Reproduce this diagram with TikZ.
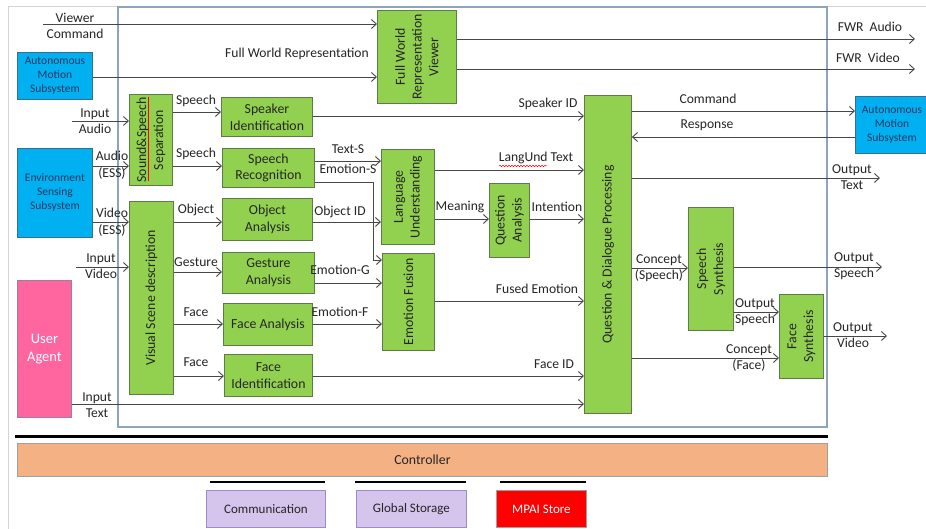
\documentclass[tikz,border=0pt]{standalone}
\usepackage{fontspec}
\setmainfont{Carlito}
\usetikzlibrary{arrows.meta,decorations.pathmorphing}
\definecolor{gfill}{HTML}{92D050}
\definecolor{gline}{HTML}{5F7A4A}
\definecolor{bfill}{HTML}{00B0F0}
\definecolor{bline}{HTML}{3A6E8F}
\definecolor{btext}{HTML}{1F3864}
\definecolor{pfill}{HTML}{FF66A0}
\definecolor{pline}{HTML}{9A7FA0}
\definecolor{cfill}{HTML}{F4B183}
\definecolor{cline}{HTML}{A0A0A0}
\definecolor{lfill}{HTML}{D5C4EC}
\definecolor{lline}{HTML}{9A8CCB}
\definecolor{aline}{HTML}{474747}
\definecolor{ltext}{HTML}{262626}
\definecolor{frame}{HTML}{8FA3BF}
\definecolor{outer}{HTML}{D4D4D4}
\newcommand{\fsz}[2]{\fontsize{#1}{#2}\selectfont}
\newcommand{\bx}[6]{\node[#6, anchor=north west, minimum width={(#4-#2)*1pt}, minimum height={(#5-#3)*1pt}] (#1) at (#2,#3) {};}
\tikzset{
  gbox/.style={draw=gline, fill=gfill, line width=0.9pt, inner sep=0pt},
  bbox/.style={draw=bline, fill=bfill, line width=0.9pt, inner sep=0pt},
  pbox/.style={draw=pline, fill=pfill, line width=0.9pt, inner sep=0pt},
  cbox/.style={draw=cline, fill=cfill, line width=0.9pt, inner sep=0pt},
  lbox/.style={draw=lline, fill=lfill, line width=0.9pt, inner sep=0pt},
  rbox/.style={draw=cline, fill=red, line width=0.9pt, inner sep=0pt},
  btxt/.style={align=center, font={\fsz{13.8}{16.8}}, text=ltext, inner sep=0pt},
  stxt/.style={align=center, font={\fsz{11.5}{14}}, text=btext, inner sep=0pt},
  lbl/.style={align=center, font={\fsz{13.6}{16.5}}, text=ltext, inner sep=0pt},
  arr/.style={draw=aline, line width=0.9pt, -{Straight Barb[length=5pt,width=9pt]}},
}
\begin{document}
\begin{tikzpicture}[x=1pt,y=-1pt]
\useasboundingbox (0,0) rectangle (926,529);
\fill[white] (0,0) rectangle (926,529);
% frames
\draw[outer, line width=1pt] (8,529) -- (8,7) -- (926,7);
\draw[frame, line width=1.2pt] (118,7) rectangle (827,427);
\draw[line width=3pt] (15,436) -- (828,436);
\draw[line width=2.2pt] (210,482) -- (325,482);
\draw[line width=2.2pt] (355,482) -- (466,482);
\draw[line width=2.2pt] (500,482) -- (586,482);

% boxes
\bx{fwrv}{377}{10}{456}{103}{gbox}
\bx{amsL}{17}{52}{92}{99}{bbox}
\bx{ess}{17}{148}{92}{237}{bbox}
\bx{ua}{17}{280}{71}{417}{pbox}
\bx{sss}{129}{94}{172}{185}{gbox}
\bx{vsd}{129}{201}{173}{394}{gbox}
\bx{si}{221}{97}{312}{136}{gbox}
\bx{sr}{222}{148}{314}{187}{gbox}
\bx{oa}{222}{198}{312}{240}{gbox}
\bx{ga}{222}{252}{314}{293}{gbox}
\bx{fa}{223}{303}{312}{345}{gbox}
\bx{fi}{224}{354}{312}{396}{gbox}
\bx{lu}{381}{149}{434}{244}{gbox}
\bx{ef}{382}{253}{434}{350}{gbox}
\bx{qa}{489}{183}{529}{257}{gbox}
\bx{qdp}{584}{95}{631}{413}{gbox}
\bx{sps}{688}{207}{733}{330}{gbox}
\bx{fs}{779}{294}{823}{378}{gbox}
\bx{amsR}{855}{96}{927}{153}{bbox}
\bx{ctrl}{17}{443}{827}{476}{cbox}
\bx{comm}{206}{490}{325}{527}{lbox}
\bx{gs}{356}{490}{466}{527}{lbox}
\bx{mpai}{496}{490}{586}{527}{rbox}

% box texts
\node[btxt, rotate=90] (t-fwrv) at (fwrv.center) {Full World\\Representation\\Viewer};
\node[stxt] (t-amsL) at (amsL.center) {Autonomous\\Motion\\Subsystem};
\node[stxt] (t-ess) at (ess.center) {Environment\\Sensing\\Subsystem};
\node[btxt, text=white, font={\fsz{14.5}{18}}] (t-ua) at (ua.center) {User\\Agent};
\node[btxt, rotate=90] (t-sss) at (sss.center) {Sound\&Speech\\Separation};
\node[btxt, rotate=90] (t-vsd) at (vsd.center) {Visual Scene description};
\node[btxt] (t-si) at (si.center) {Speaker\\Identification};
\node[btxt] (t-sr) at (sr.center) {Speech\\Recognition};
\node[btxt] (t-oa) at (oa.center) {Object\\Analysis};
\node[btxt] (t-ga) at (ga.center) {Gesture\\Analysis};
\node[btxt] (t-fa) at (fa.center) {Face Analysis};
\node[btxt] (t-fi) at (fi.center) {Face\\Identification};
\node[btxt, rotate=90] (t-lu) at (lu.center) {Language\\Understanding};
\node[btxt, rotate=90] (t-ef) at (ef.center) {Emotion Fusion};
\node[btxt, rotate=90] (t-qa) at (qa.center) {Question\\Analysis};
\node[btxt, rotate=90] (t-qdp) at (qdp.center) {Question \& Dialogue Processing};
\node[btxt, rotate=90] (t-sps) at (sps.center) {Speech\\Synthesis};
\node[btxt, rotate=90] (t-fs) at (fs.center) {Face\\Synthesis};
\node[stxt] (t-amsR) at (892,124.5) {Autonomous\\Motion\\Subsystem};
\node[btxt] (t-ctrl) at (ctrl.center) {Controller};
\node[btxt, font={\fsz{13}{15}}] (t-comm) at (comm.center) {Communication};
\node[btxt, font={\fsz{13}{15}}] (t-gs) at (gs.center) {Global Storage};
\node[btxt, text=white, font={\fsz{13}{15}}] (t-mpai) at (mpai.center) {MPAI Store};

% spell-check marks
\draw[red, line width=0.6pt] (148,97) -- (148,181);
\draw[red, line width=0.5pt, decorate, decoration={snake, amplitude=0.7pt, segment length=3pt}] (499,166) -- (547,166);

% free ends
\coordinate (vc) at (43,24);
\coordinate (iaud) at (72,121);
\coordinate (ivid) at (76,267);
\coordinate (fwra) at (915,39);
\coordinate (fwrvid) at (915,69);
\coordinate (otext) at (880,178);
\coordinate (ospeech) at (882,267);
\coordinate (ovideo) at (887,336);
\coordinate (es) at (373,182);

% connectors
\draw[arr] (vc) -- (fwrv.west |- vc);
\draw[arr] (amsL.east |- 0,77) -- (fwrv.west |- 0,77);
\draw[arr] (fwrv.east |- fwra) -- (fwra);
\draw[arr] (fwrv.east |- fwrvid) -- (fwrvid);
\draw[arr] (iaud) -- (sss.west |- iaud);
\draw[arr] (ess.east |- 0,166) -- (sss.west |- 0,166);
\draw[arr] (ess.east |- 0,222) -- (vsd.west |- 0,222);
\draw[arr] (ivid) -- (vsd.west |- ivid);
\draw[arr] (sss.east |- 0,112) -- (si.west |- 0,112);
\draw[arr] (sss.east |- 0,166) -- (sr.west |- 0,166);
\draw[arr] (vsd.east |- 0,222) -- (oa.west |- 0,222);
\draw[arr] (vsd.east |- 0,272) -- (ga.west |- 0,272);
\draw[arr] (vsd.east |- 0,324) -- (fa.west |- 0,324);
\draw[arr] (vsd.east |- 0,376) -- (fi.west |- 0,376);
\draw[arr] (si.east |- 0,116) -- (qdp.west |- 0,116);
\draw[arr] (sr.east |- 0,161) -- (lu.west |- 0,161);
\draw[arr] (sr.east |- es) -- (es) |- (ef.west |- 0,260);
\draw[arr] (oa.east |- 0,222) -- (lu.west |- 0,222);
\draw[arr] (ga.east |- 0,283) -- (ef.west |- 0,283);
\draw[arr] (fa.east |- 0,324) -- (ef.west |- 0,324);
\draw[arr] (ef.east |- 0,301) -- (qdp.west |- 0,301);
\draw[arr] (fi.east |- 0,376) -- (qdp.west |- 0,376);
\draw[arr] (ua.east |- 0,404) -- (qdp.west |- 0,404);
\draw[arr] (lu.east |- 0,170) -- (qdp.west |- 0,170);
\draw[arr] (lu.east |- 0,219) -- (qa.west |- 0,219);
\draw[arr] (qa.east |- 0,219) -- (qdp.west |- 0,219);
\draw[arr] (qdp.east |- 0,111) -- (amsR.west |- 0,111);
\draw[arr] (amsR.west |- 0,137) -- (qdp.east |- 0,137);
\draw[arr] (qdp.east |- otext) -- (otext);
\draw[arr] (qdp.east |- 0,268) -- (sps.west |- 0,268);
\draw[arr] (sps.east |- ospeech) -- (ospeech);
\draw[arr] (sps.east |- 0,312) -- (fs.west |- 0,312);
\draw[arr] (qdp.east |- 0,358) -- (fs.west |- 0,358);
\draw[arr] (fs.east |- ovideo) -- (ovideo);

% labels
\node[lbl] (l-vc) at (75,26) {Viewer\\Command};
\node[lbl] (l-fwr) at (297,54) {Full World Representation};
\node[lbl] (l-fwra) at (870,27) {FWR\ \ Audio};
\node[lbl] (l-fwrv) at (868,58) {FWR\ \ Video};
\node[lbl] (l-iaud) at (95,121) {Input\\Audio};
\node[lbl] (l-aess) at (112,165) {Audio\\(ESS)};
\node[lbl] (l-vess) at (112,222) {Video\\(ESS)};
\node[lbl] (l-ivid) at (101,266) {Input\\Video};
\node[lbl] (l-itext) at (97,405) {Input\\Text};
\node[lbl] (l-sp1) at (196,101) {Speech};
\node[lbl] (l-sp2) at (196,154) {Speech};
\node[lbl] (l-obj) at (196,210) {Object};
\node[lbl] (l-ges) at (196,262) {Gesture};
\node[lbl] (l-face1) at (196,312) {Face};
\node[lbl] (l-face2) at (196,362) {Face};
\node[lbl] (l-spkid) at (548,104) {Speaker ID};
\node[lbl] (l-texts) at (348,149) {Text-S};
\node[lbl] (l-emos) at (348,169) {Emotion-S};
\node[lbl] (l-objid) at (340,212) {Object ID};
\node[lbl] (l-emog) at (340,270) {Emotion-G};
\node[lbl] (l-emof) at (340,312) {Emotion-F};
\node[lbl] (l-lut) at (536,158) {LangUnd Text};
\node[lbl] (l-mean) at (460,207) {Meaning};
\node[lbl] (l-int) at (557,207) {Intention};
\node[lbl] (l-fused) at (537,289) {Fused Emotion};
\node[lbl] (l-faceid) at (554,364) {Face ID};
\node[lbl] (l-cmd) at (708,99) {Command};
\node[lbl] (l-resp) at (707,125) {Response};
\node[lbl] (l-otext) at (852,177) {Output\\Text};
\node[lbl] (l-csp) at (659,268) {Concept\\(Speech)};
\node[lbl] (l-osp) at (854,266) {Output\\Speech};
\node[lbl] (l-osp2) at (755,312) {Output\\Speech};
\node[lbl] (l-cface) at (749,358) {Concept\\(Face)};
\node[lbl] (l-ovid) at (853,335) {Output\\Video};
\end{tikzpicture}
\end{document}
